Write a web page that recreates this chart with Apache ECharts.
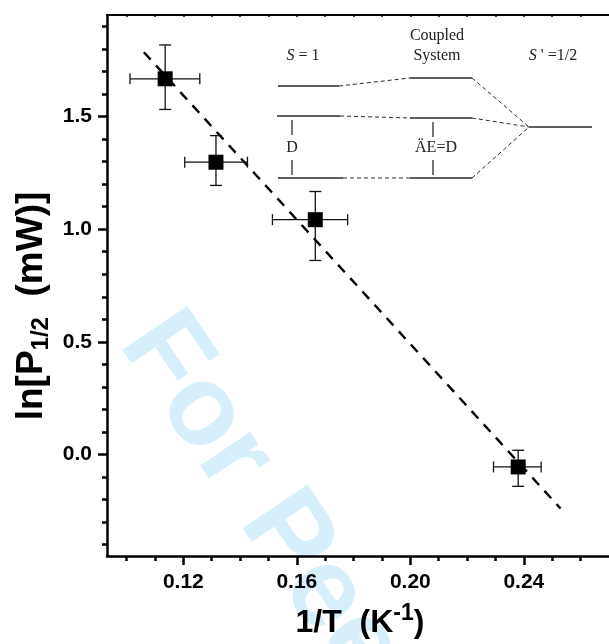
<!DOCTYPE html>
<html>
<head>
<meta charset="utf-8">
<script src="https://cdn.jsdelivr.net/npm/echarts@6/dist/echarts.min.js"></script>
<style>
  html, body { margin: 0; padding: 0; background: #fff; }
  #chart { width: 609px; height: 644px; }
</style>
</head>
<body>
<div id="chart"></div>
<script>
// values
const invT = [0.1136, 0.1315, 0.1665, 0.2380];
const lnP = [1.667, 1.297, 1.042, -0.055];
const invTLow = [0.1012, 0.1205, 0.1514, 0.2293];
const invTHigh = [0.1258, 0.1426, 0.1779, 0.2461];
const lnPLow = [1.531, 1.194, 0.861, -0.141];
const lnPHigh = [1.817, 1.415, 1.167, 0.019];

// dashed linear fit
const fitX = [0.1061, 0.2529];
const fitY = [1.785, -0.239];

// ticks
const xLabelTicks = [0.12, 0.16, 0.20, 0.24];
const xMinorTicks = [0.10, 0.11, 0.12, 0.13, 0.14, 0.15, 0.16, 0.17, 0.18, 0.19, 0.20, 0.21, 0.22, 0.23, 0.24, 0.25, 0.26];
const yLabelTicks = [0.0, 0.5, 1.0, 1.5];
const yMinorTicks = [-0.4, -0.3, -0.2, -0.1, 0.0, 0.1, 0.2, 0.3, 0.4, 0.5, 0.6, 0.7, 0.8, 0.9, 1.0, 1.1, 1.2, 1.3, 1.4, 1.5, 1.6, 1.7, 1.8, 1.9];

const X_MIN = 0.0931, X_MAX = 0.27;
const Y_MIN = -0.45, Y_MAX = 1.95;

const chart = echarts.init(document.getElementById("chart"));

const sans = "Liberation Sans, Arial, sans-serif";
const labelFont = {
	fontFamily: sans,
	fontWeight: "bold",
	fontSize: 21,
	color: "#000",
};

function errorBars(params, api) {
	const c = api.coord([api.value(0), api.value(1)]);
	const l = api.coord([api.value(2), api.value(1)]);
	const r = api.coord([api.value(3), api.value(1)]);
	const b = api.coord([api.value(0), api.value(4)]);
	const t = api.coord([api.value(0), api.value(5)]);
	const cx = 5.5, cy = 6;
	const style = { stroke: "#111", lineWidth: 1.3 };
	return {
		type: "group",
		children: [
			{ type: "line", shape: { x1: l[0], y1: c[1], x2: r[0], y2: c[1] }, style },
			{ type: "line", shape: { x1: l[0], y1: c[1] - cx, x2: l[0], y2: c[1] + cx }, style },
			{ type: "line", shape: { x1: r[0], y1: c[1] - cx, x2: r[0], y2: c[1] + cx }, style },
			{ type: "line", shape: { x1: c[0], y1: b[1], x2: c[0], y2: t[1] }, style },
			{ type: "line", shape: { x1: c[0] - cy, y1: b[1], x2: c[0] + cy, y2: b[1] }, style },
			{ type: "line", shape: { x1: c[0] - cy, y1: t[1], x2: c[0] + cy, y2: t[1] }, style },
		],
	};
}

// inset level scheme (pixel sketch, not data)
const solid = [
	[278, 86, 339, 86], [410, 78, 472, 78],
	[277, 116, 340, 116], [410, 118, 472, 118],
	[278, 178, 343, 178], [410, 178, 472, 178],
	[529, 127, 592, 127],
	[292, 120, 292, 135], [292, 160, 292, 175],
	[433, 122, 433, 137], [433, 160, 433, 175],
];
const dashed = [
	[339, 86, 410, 78], [472, 78, 529, 127],
	[340, 116, 410, 118], [472, 118, 529, 127],
	[343, 178, 410, 178], [472, 178, 529, 127],
];
const serif = "Liberation Serif, Times New Roman, serif";
const inset = [];
solid.forEach(function (s) {
	inset.push({ type: "line", shape: { x1: s[0], y1: s[1], x2: s[2], y2: s[3] }, style: { stroke: "#2a2a2a", lineWidth: 1.3 } });
});
dashed.forEach(function (s) {
	inset.push({ type: "line", shape: { x1: s[0], y1: s[1], x2: s[2], y2: s[3] }, style: { stroke: "#2a2a2a", lineWidth: 1, lineDash: [4, 3] } });
});
function insetText(txt, x, y) {
	return {
		type: "text", x: x, y: y,
		style: {
			text: txt, align: "center", verticalAlign: "middle",
			fontFamily: serif, fontSize: 16, fill: "#222",
			rich: { i: { fontFamily: serif, fontSize: 16, fontStyle: "italic", fill: "#222" } },
		},
	};
}
inset.push(insetText("{i|S} = 1", 303, 56));
inset.push(insetText("Coupled", 437, 36));
inset.push(insetText("System", 437, 56));
inset.push(insetText("{i|S} ' =1/2", 553, 56));
inset.push(insetText("D", 292, 148));
inset.push(insetText("ÄE=D", 436, 148));

chart.setOption({
	animation: false,
	backgroundColor: "#fff",
	grid: { left: 107, top: 15, right: -10, bottom: 88 },
	xAxis: [
		{
			type: "value", position: "bottom", min: X_MIN, max: X_MAX,
			axisLine: { show: true, onZero: false, lineStyle: { color: "#000", width: 2.5 } },
			axisTick: { show: true, length: 9, customValues: xLabelTicks, lineStyle: { color: "#000", width: 2.5 } },
			axisLabel: Object.assign({ customValues: xLabelTicks, margin: 16, formatter: (v) => v.toFixed(2) }, labelFont),
			splitLine: { show: false },
		},
		{
			type: "value", position: "bottom", min: X_MIN, max: X_MAX,
			axisLine: { show: false, onZero: false },
			axisTick: { show: true, length: 5, customValues: xMinorTicks, lineStyle: { color: "#000", width: 2.5 } },
			axisLabel: { show: false },
			splitLine: { show: false },
		},
		{
			type: "value", position: "top", min: X_MIN, max: X_MAX,
			axisLine: { show: true, onZero: false, lineStyle: { color: "#000", width: 2 } },
			axisTick: { show: true, inside: true, length: 2, customValues: xMinorTicks, lineStyle: { color: "#000", width: 1.5 } },
			axisLabel: { show: false },
			splitLine: { show: false },
		},
	],
	yAxis: [
		{
			type: "value", position: "left", min: Y_MIN, max: Y_MAX,
			axisLine: { show: true, onZero: false, lineStyle: { color: "#000", width: 2.5 } },
			axisTick: { show: true, length: 9, customValues: yLabelTicks, lineStyle: { color: "#000", width: 2.5 } },
			axisLabel: Object.assign({ customValues: yLabelTicks, margin: 15, formatter: (v) => v.toFixed(1) }, labelFont),
			splitLine: { show: false },
		},
		{
			type: "value", position: "left", min: Y_MIN, max: Y_MAX,
			axisLine: { show: false, onZero: false },
			axisTick: { show: true, length: 5, customValues: yMinorTicks, lineStyle: { color: "#000", width: 2.5 } },
			axisLabel: { show: false },
			splitLine: { show: false },
		},
	],
	graphic: [
		{
			type: "text", z: -10, x: 144, y: 326, rotation: -56 * Math.PI / 180,
			style: {
				text: "For Peer Review", align: "left", verticalAlign: "middle",
				fontFamily: sans, fontWeight: "bold", fontSize: 114,
				fill: "#d7effb",
			},
		},
		{
			type: "text", x: 360, y: 621,
			style: {
				text: "{m|1/T  (K}{s|-1}{m|)}", align: "center", verticalAlign: "middle",
				rich: {
					m: { fontFamily: sans, fontWeight: "bold", fontSize: 32, lineHeight: 37, verticalAlign: "bottom", fill: "#000" },
					s: { fontFamily: sans, fontWeight: "bold", fontSize: 23, lineHeight: 23, verticalAlign: "top", fill: "#000" },
				},
			},
		},
		{
			type: "text", x: 33, y: 306, rotation: Math.PI / 2,
			style: {
				text: "{m|ln[P}{s|1/2}{m|  (mW)]}", align: "center", verticalAlign: "middle",
				rich: {
					m: { fontFamily: sans, fontWeight: "bold", fontSize: 37, lineHeight: 40, verticalAlign: "top", fill: "#000" },
					s: { fontFamily: sans, fontWeight: "bold", fontSize: 24, lineHeight: 24, verticalAlign: "bottom", fill: "#000" },
				},
			},
		},
	].concat(inset),
	series: [
		{
			type: "line",
			xAxisIndex: 0, yAxisIndex: 0,
			data: fitX.map((x, i) => [x, fitY[i]]),
			symbol: "none",
			lineStyle: { color: "#000", width: 2.4, type: [10, 8] },
			z: 2,
		},
		{
			type: "custom",
			xAxisIndex: 0, yAxisIndex: 0,
			renderItem: errorBars,
			encode: { x: [0, 2, 3], y: [1, 4, 5] },
			data: invT.map((x, i) => [x, lnP[i], invTLow[i], invTHigh[i], lnPLow[i], lnPHigh[i]]),
			z: 3,
		},
		{
			type: "scatter",
			xAxisIndex: 0, yAxisIndex: 0,
			data: invT.map((x, i) => [x, lnP[i]]),
			symbol: "rect",
			symbolSize: 15,
			itemStyle: { color: "#000", opacity: 1 },
			z: 4,
		},
	],
});
</script>
</body>
</html>
